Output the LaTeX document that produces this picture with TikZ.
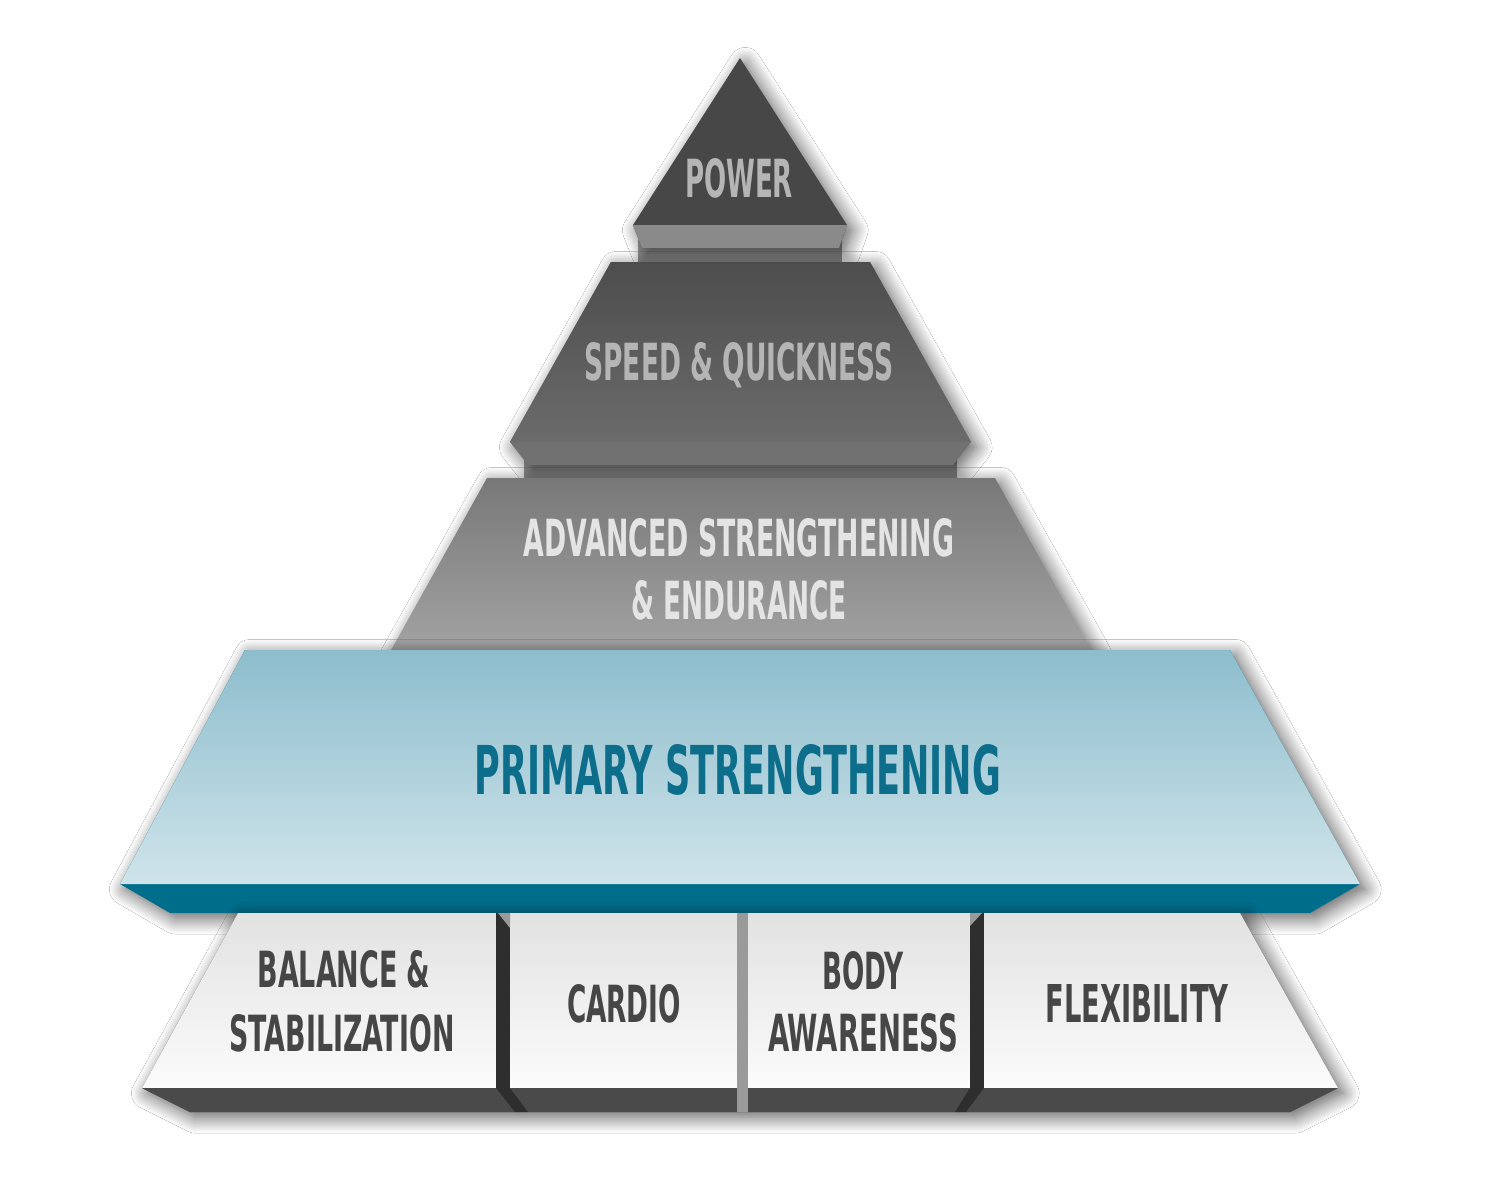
\documentclass[tikz,border=0pt]{standalone}
\usepackage{fontspec}
\usepackage{graphicx}
\newfontfamily\bfnt{DejaVu Sans Condensed}
\usetikzlibrary{shadows.blur}
\newlength\pxu \setlength\pxu{0.02cm}
\newcommand{\lbl}[3]{\resizebox{#1\pxu}{#2\pxu}{\bfnt\bfseries #3}}
\definecolor{pwr}{HTML}{474747}
\definecolor{pwrslab}{HTML}{8A8A8A}
\definecolor{band}{HTML}{9A9A9A}
\definecolor{spdtop}{HTML}{4D4D4D}
\definecolor{spdbot}{HTML}{6B6B6B}
\definecolor{spdslab}{HTML}{717171}
\definecolor{advtop}{HTML}{787878}
\definecolor{advbot}{HTML}{A3A3A3}
\definecolor{pritop}{HTML}{8DBDCD}
\definecolor{pribot}{HTML}{CFE4EA}
\definecolor{teal}{HTML}{006D8B}
\definecolor{pritext}{HTML}{0C6E8A}
\definecolor{blktop}{HTML}{E2E2E2}
\definecolor{blkbot}{HTML}{FBFBFB}
\definecolor{blkslab}{HTML}{4A4A4A}
\definecolor{strip}{HTML}{2E2E2E}
\definecolor{dtext}{HTML}{464646}
\definecolor{ltext}{HTML}{B5B5B5}
\definecolor{wtext}{HTML}{E4E4E4}
\begin{document}
\begin{tikzpicture}[x=0.02cm,y=-0.02cm,
  txt/.style={inner sep=0pt, anchor=base},
  sh/.style={blur shadow={shadow xshift=3pt, shadow yshift=-3pt, shadow blur radius=9pt, shadow blur steps=16, shadow opacity=65}}]
\useasboundingbox[fill=white] (0,0) rectangle (1500,1186);

% back bands
\fill[band] (638,240) rectangle (842,266);
\fill[band] (524,458) rectangle (957,482);

% POWER level
\path[sh, fill=pwr] (740,58) -- (847,225) -- (839,248) -- (642,248) -- (633,225) -- cycle;
\fill[pwrslab] (633,225) -- (847,225) -- (839,248) -- (642,248) -- cycle;

% SPEED level
\path[sh, fill=spdslab] (611,262) -- (870,262) -- (971,442) -- (953,465) -- (528,465) -- (510,442) -- cycle;
\shade[top color=spdtop, bottom color=spdbot] (611,262) -- (870,262) -- (971,442) -- (510,442) -- cycle;

% ADVANCED level
\shade[sh, top color=advtop, bottom color=advbot] (487,478) -- (995,478) -- (1092,652) -- (390,652) -- cycle;

% PRIMARY level
\path[sh, fill=teal] (245,650) -- (1230,650) -- (1360,884) -- (1310,913) -- (170,913) -- (120,884) -- cycle;
\shade[top color=pritop, bottom color=pribot] (245,650) -- (1230,650) -- (1360,884) -- (120,884) -- cycle;

% bottom row silhouette with shadow
\path[sh, fill=blkslab] (238,913) -- (1240,913) -- (1338,1088) -- (1290,1112) -- (190,1112) -- (142,1088) -- cycle;
% faces
\shade[top color=blktop, bottom color=blkbot] (238,913) -- (496,913) -- (496,1088) -- (142,1088) -- cycle;
\shade[top color=blktop, bottom color=blkbot] (510,913) rectangle (737,1088);
\shade[top color=blktop, bottom color=blkbot] (748,913) rectangle (970,1088);
\shade[top color=blktop, bottom color=blkbot] (984,913) -- (1240,913) -- (1338,1088) -- (984,1088) -- cycle;
% slabs
\fill[blkslab] (142,1088) -- (496,1088) -- (515,1112) -- (190,1112) -- cycle;
\fill[blkslab] (510,1088) -- (737,1088) -- (737,1112) -- (528,1112) -- cycle;
\fill[blkslab] (748,1088) -- (970,1088) -- (955,1112) -- (748,1112) -- cycle;
\fill[blkslab] (984,1088) -- (1338,1088) -- (1290,1112) -- (966,1112) -- cycle;
% separators
\fill[strip] (496,913) rectangle (510,1088);
\fill[strip] (496,1088) -- (510,1088) -- (528,1112) -- (515,1112) -- cycle;
\fill[band] (498,913) -- (510,913) -- (510,928) -- cycle;
\fill[band] (737,913) rectangle (748,1112);
\fill[strip] (970,913) rectangle (984,1088);
\fill[strip] (970,1088) -- (984,1088) -- (966,1112) -- (955,1112) -- cycle;
\fill[band] (970,913) -- (982,913) -- (970,926) -- cycle;

% texts
\node[txt, text=ltext] (power) at (739,197) {\lbl{108}{39}{POWER}};
\node[txt, text=ltext] (speed) at (739,380) {\lbl{309}{38}{SPEED \& QUICKNESS}};
\node[txt, text=wtext] (adv1) at (739,556) {\lbl{430}{38}{ADVANCED STRENGTHENING}};
\node[txt, text=wtext] (adv2) at (739,619) {\lbl{216}{39}{\& ENDURANCE}};
\node[txt, text=pritext] (primary) at (738,794) {\lbl{526}{50}{PRIMARY STRENGTHENING}};
\node[txt, text=dtext] (bal1) at (344,987) {\lbl{173}{37}{BALANCE \&}};
\node[txt, text=dtext] (bal2) at (342,1051) {\lbl{225}{37}{STABILIZATION}};
\node[txt, text=dtext] (cardio) at (624,1022) {\lbl{114}{38}{CARDIO}};
\node[txt, text=dtext] (body1) at (863,989) {\lbl{81}{38}{BODY}};
\node[txt, text=dtext] (body2) at (863,1051) {\lbl{190}{38}{AWARENESS}};
\node[txt, text=dtext] (flex) at (1137,1022) {\lbl{183}{38}{FLEXIBILITY}};
\end{tikzpicture}
\end{document}
